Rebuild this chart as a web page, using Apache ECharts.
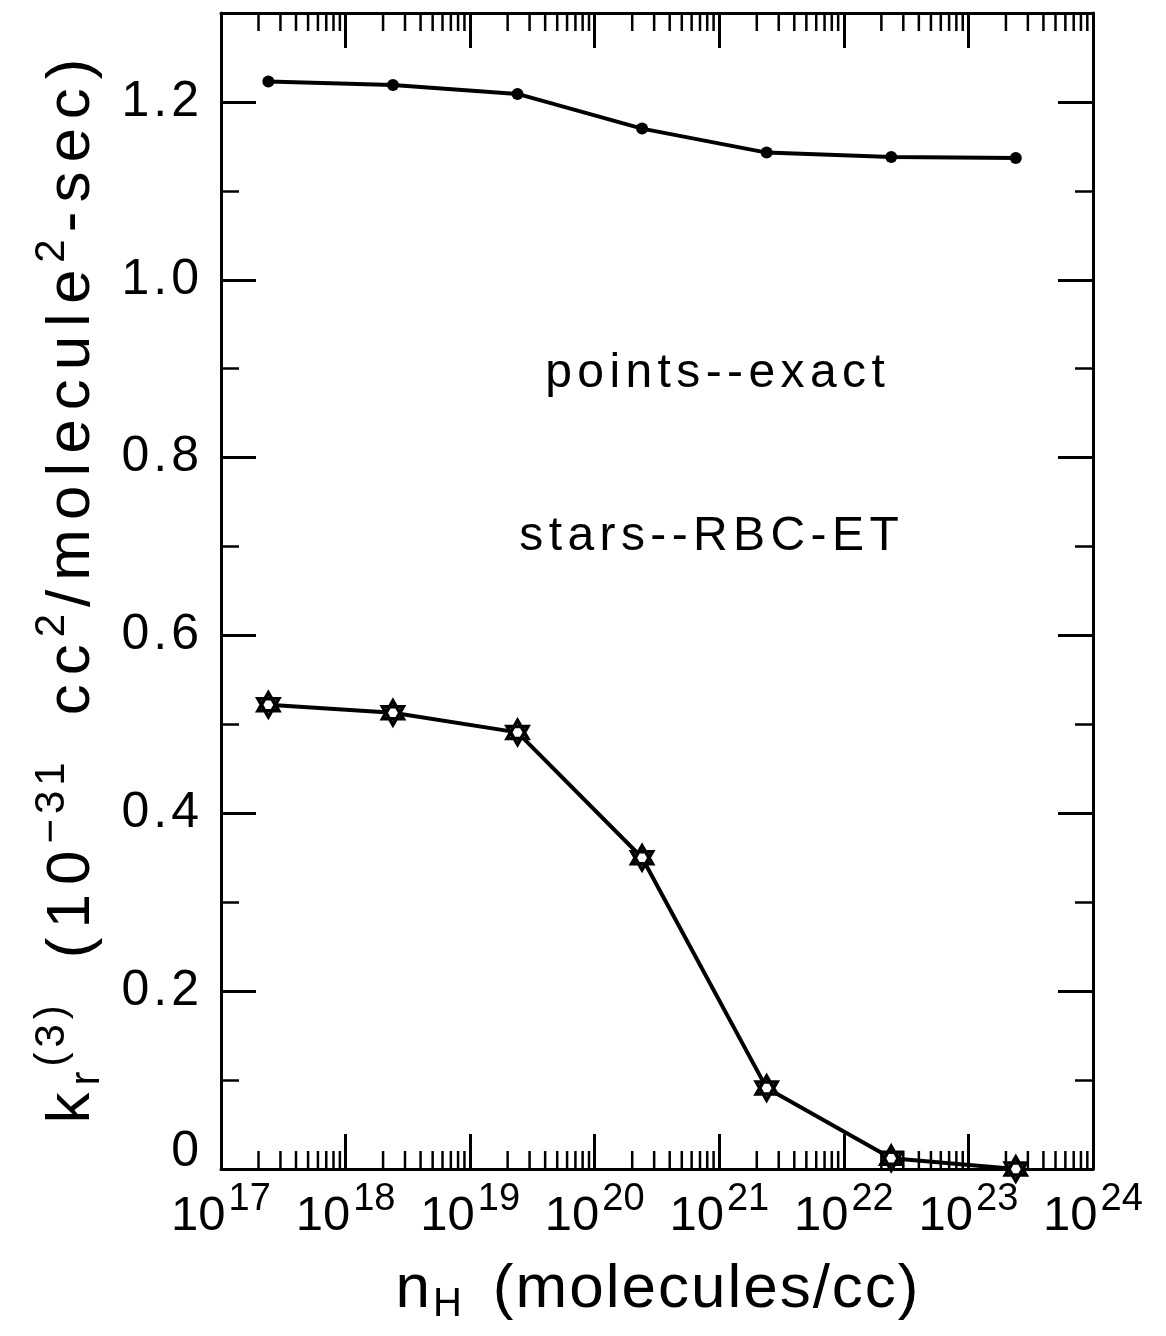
<!DOCTYPE html>
<html>
<head>
<meta charset="utf-8">
<script src="https://cdn.jsdelivr.net/npm/echarts@6/dist/echarts.min.js"></script>
<style>
  html, body { margin: 0; padding: 0; background: #fff; }
  #chart { width: 1166px; height: 1336px; }
</style>
</head>
<body>
<div id="chart"></div>
<script>
// Hydrogen density n_H (molecules/cc)
const density = [2.4e17, 2.4e18, 2.4e19, 2.4e20, 2.4e21, 2.4e22, 2.4e23];
// Exact three-body recombination rate k_r(3), units of 1e-31 cc^2/molecule^2-sec
const exactRate = [1.223, 1.219, 1.209, 1.170, 1.143, 1.138, 1.137];
// RBC-ET approximation of the same rate
const rbcEtRate = [0.522, 0.513, 0.491, 0.350, 0.091, 0.012, 0.0];

// Axis layout values
const decadeExponents = [17, 18, 19, 20, 21, 22, 23, 24];
const minorMultipliers = [2, 3, 4, 5, 6, 7, 8, 9];
const yMin = 0, yMax = 1.3, yLabelStep = 0.2, yTickStep = 0.1;

const FONT = 'Liberation Sans, Arial, Helvetica, sans-serif';
const INK = '#000';

// Logarithmic minor tick positions (2..9 x 10^n) inside every decade
const minorTicks = [];
decadeExponents.slice(0, -1).forEach(e => {
  minorMultipliers.forEach(k => minorTicks.push([k * Math.pow(10, e), yMin]));
});

const pairs = (xs, ys) => xs.map((x, i) => [x, ys[i]]);

// Wrap each character in its own rich fragment so the style's side padding
// acts as letter spacing (the plotter font is set wide).
const spaced = (text, style) => Array.from(text).map(c => '{' + style + '|' + c + '}').join('');

const chart = echarts.init(document.getElementById('chart'), null, { renderer: 'canvas' });

const axisLine = { show: true, onZero: false, lineStyle: { color: INK, width: 3 } };
const majorTick = { show: true, inside: true, length: 35, lineStyle: { color: INK, width: 3 } };
const minorTickStyle = { show: true, inside: true, length: 18, lineStyle: { color: INK, width: 2.5 } };

const xBase = {
  type: 'log', logBase: 10,
  min: Math.pow(10, decadeExponents[0]),
  max: Math.pow(10, decadeExponents[decadeExponents.length - 1]),
  splitNumber: decadeExponents.length - 1,
  splitLine: { show: false },
  axisLine: axisLine,
  axisTick: majorTick
};

const yBase = {
  type: 'value', min: yMin, max: yMax,
  splitLine: { show: false }
};

const yTitle =
  spaced('k', 'm') + spaced('r', 'sb') + spaced('(3)', 'sp') + '{g| }' +
  spaced('(10', 'm') + spaced('\u221231', 'sp') + '{g| }' +
  spaced('cc', 'm') + spaced('2', 'sp') + spaced('/molecule', 'm') +
  spaced('2', 'sp') + spaced('-sec)', 'm');

const xTitle = spaced('n', 'm') + spaced('H', 'sb') + '{g| }' + spaced('(molecules/cc)', 'm');

const noteStyle = { fontSize: 48, fontFamily: FONT, fill: INK, padding: [0, 2.7, 0, 2.7] };

const option = {
  backgroundColor: '#fff',
  animation: false,
  grid: { left: 221, right: 73, top: 13, bottom: 167, containLabel: false },
  xAxis: [
    Object.assign({}, xBase, {
      position: 'bottom',
      axisLabel: {
        show: true, interval: 0, margin: 12,
        showMinLabel: true, showMaxLabel: true,
        color: INK, fontFamily: FONT,
        formatter: v => '{b|10}{s|' + Math.round(Math.log10(v)) + '}',
        rich: {
          b: { fontSize: 49, fontFamily: FONT, color: INK },
          s: { fontSize: 38, fontFamily: FONT, color: INK, padding: [0, 0, 32, 3] }
        }
      },
      name: xTitle,
      nameLocation: 'middle',
      nameGap: 86,
      nameTextStyle: {
        color: INK, fontFamily: FONT,
        rich: {
          m: { fontSize: 62, fontFamily: FONT, color: INK, padding: [0, 1, 0, 1] },
          sb: { fontSize: 40, fontFamily: FONT, color: INK, padding: [30, 0, 0, 2] },
          g: { fontSize: 62, fontFamily: FONT, width: 30 }
        }
      }
    }),
    Object.assign({}, xBase, { position: 'top', axisLabel: { show: false } })
  ],
  yAxis: [
    Object.assign({}, yBase, {
      position: 'left', interval: yLabelStep,
      axisLine: axisLine, axisTick: majorTick,
      axisLabel: {
        show: true, margin: 20, showMaxLabel: false,
        color: INK, fontSize: 50, fontFamily: FONT,
        formatter: v => (Math.abs(v) < 1e-9 ? '{z|0}' : spaced(v.toFixed(1), 'd')),
        rich: {
          d: { fontSize: 50, fontFamily: FONT, color: INK, padding: [0, 2, 0, 2] },
          z: { fontSize: 50, fontFamily: FONT, color: INK, padding: [0, 2, 34, 2] }
        }
      },
      name: yTitle,
      nameLocation: 'middle',
      nameRotate: 90,
      nameGap: 108,
      nameTextStyle: {
        color: INK, fontFamily: FONT,
        rich: {
          m: { fontSize: 62, fontFamily: FONT, color: INK, padding: [0, 4.5, 0, 4.5] },
          sp: { fontSize: 42, fontFamily: FONT, color: INK, padding: [0, 2.5, 40, 2.5] },
          sb: { fontSize: 42, fontFamily: FONT, color: INK, padding: [30, 2.5, 0, 2.5] },
          g: { fontSize: 62, fontFamily: FONT, width: 40 }
        }
      }
    }),
    Object.assign({}, yBase, {
      position: 'left', interval: yTickStep,
      axisLine: { show: false }, axisTick: minorTickStyle, axisLabel: { show: false }
    }),
    Object.assign({}, yBase, {
      position: 'right', interval: yLabelStep,
      axisLine: axisLine, axisTick: majorTick, axisLabel: { show: false }
    }),
    Object.assign({}, yBase, {
      position: 'right', interval: yTickStep,
      axisLine: { show: false }, axisTick: minorTickStyle, axisLabel: { show: false }
    })
  ],
  graphic: [
    {
      type: 'text', x: 715, y: 374, silent: true,
      style: {
        text: spaced('points--exact', 'a'), fill: INK, fontSize: 48, fontFamily: FONT,
        align: 'center', verticalAlign: 'middle', rich: { a: noteStyle }
      }
    },
    {
      type: 'text', x: 709, y: 537, silent: true,
      style: {
        text: spaced('stars--RBC-ET', 'a'), fill: INK, fontSize: 48, fontFamily: FONT,
        align: 'center', verticalAlign: 'middle', rich: { a: noteStyle }
      }
    }
  ],
  series: [
    {
      name: 'minor ticks',
      type: 'custom',
      xAxisIndex: 0, yAxisIndex: 0,
      silent: true,
      data: minorTicks,
      encode: { x: 0, y: 1 },
      renderItem: (params, api) => {
        const v = api.value(0);
        const b = api.coord([v, yMin]);
        const t = api.coord([v, yMax]);
        const style = { stroke: INK, lineWidth: 2.5 };
        return {
          type: 'group',
          children: [
            { type: 'line', shape: { x1: b[0], y1: b[1], x2: b[0], y2: b[1] - 18 }, style: style },
            { type: 'line', shape: { x1: t[0], y1: t[1], x2: t[0], y2: t[1] + 18 }, style: style }
          ]
        };
      }
    },
    {
      name: 'exact',
      type: 'line',
      xAxisIndex: 0, yAxisIndex: 0,
      data: pairs(density, exactRate),
      symbol: 'circle', symbolSize: 12,
      itemStyle: { color: INK },
      lineStyle: { color: INK, width: 4 },
      z: 3
    },
    {
      name: 'RBC-ET',
      type: 'line',
      xAxisIndex: 0, yAxisIndex: 0,
      data: pairs(density, rbcEtRate),
      symbol: 'path://M50 0L93.3 75L6.7 75Z M50 100L6.7 25L93.3 25Z',
      symbolKeepAspect: true,
      symbolSize: 24,
      itemStyle: { color: '#fff', borderColor: INK, borderWidth: 3.5 },
      lineStyle: { color: INK, width: 4 },
      z: 3
    }
  ]
};

chart.setOption(option);
</script>
</body>
</html>
